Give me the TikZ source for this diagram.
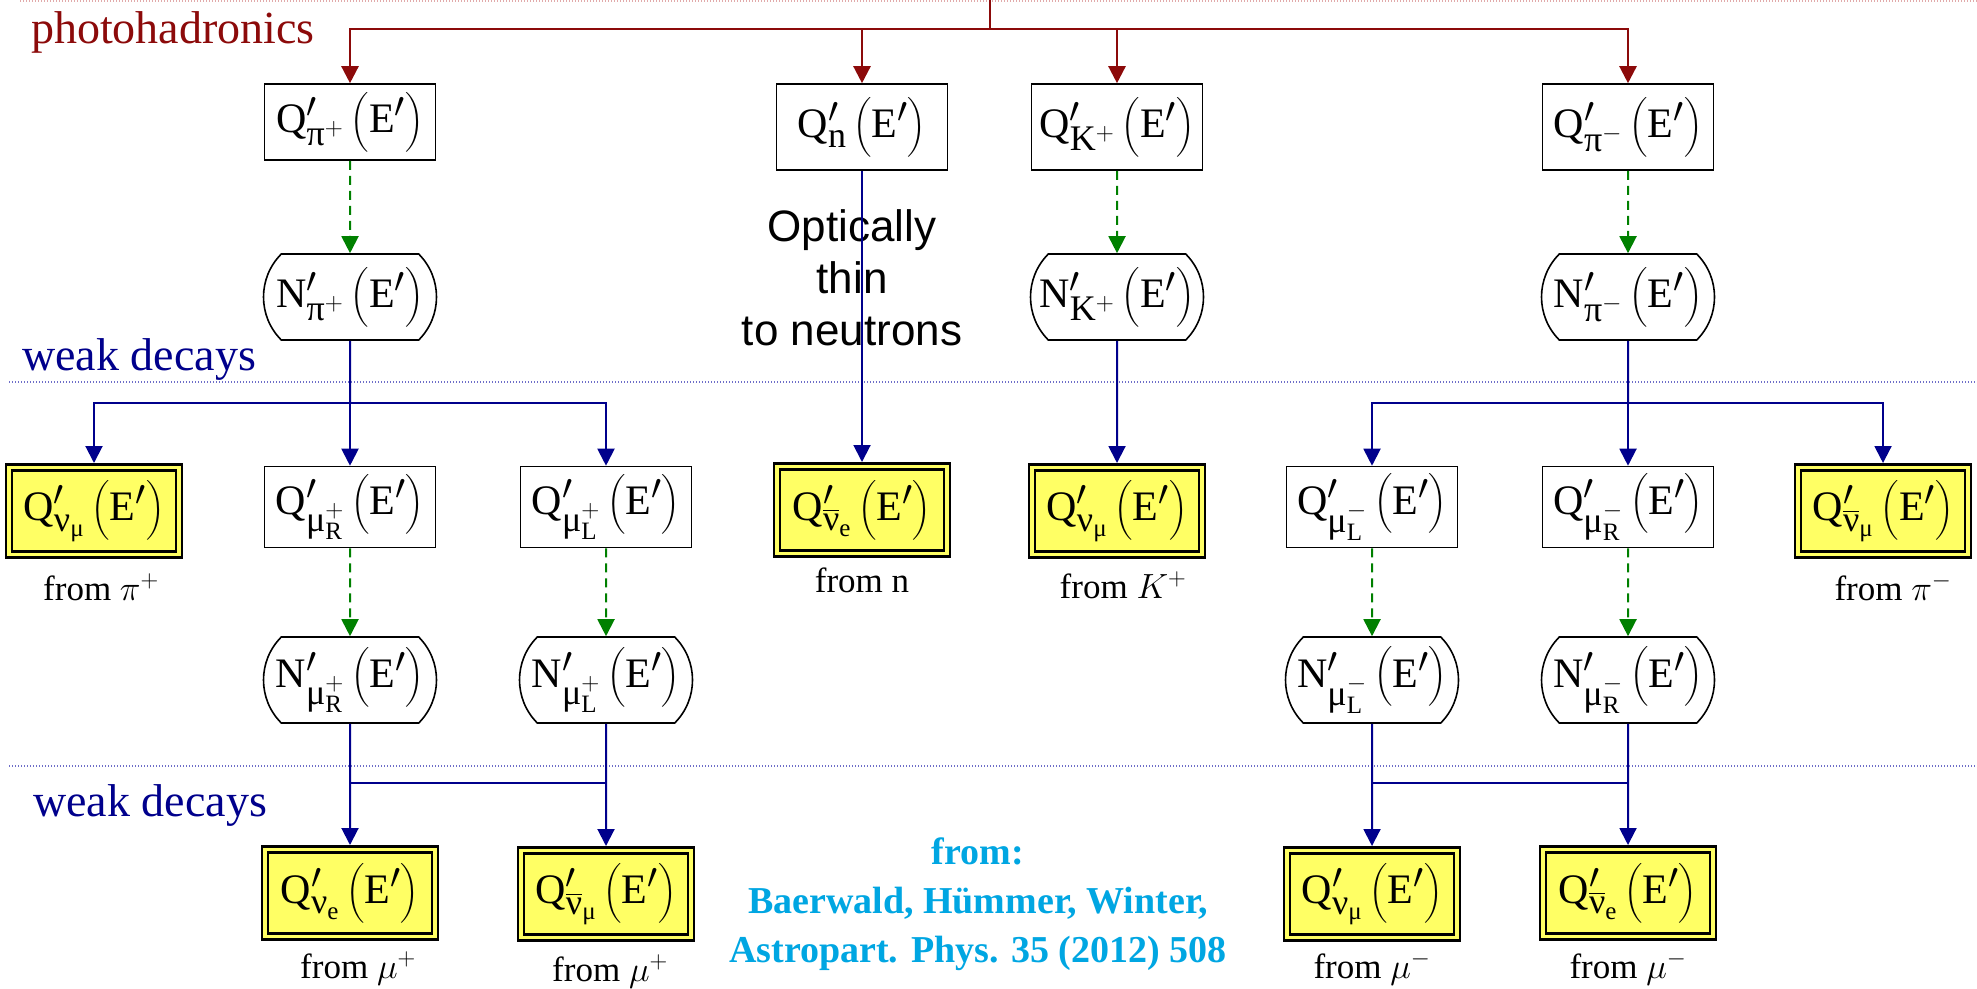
\RequirePackage{fix-cm}
\documentclass[tikz,border=0pt]{standalone}
\usepackage{amsmath}
\usepackage{fontspec}
\setmainfont{Liberation Serif}
\newfontfamily\sansA{Liberation Sans}
\usetikzlibrary{arrows.meta,shapes.misc}
\definecolor{hadred}{RGB}{140,10,10}
\definecolor{weakblue}{RGB}{0,0,140}
\definecolor{dashgreen}{RGB}{0,128,0}
\definecolor{boxyellow}{RGB}{255,255,100}
\definecolor{citecyan}{RGB}{0,166,226}
\definecolor{dotblue}{RGB}{110,110,200}
\definecolor{dotred}{RGB}{225,170,170}
\DeclareMathSizes{42}{42}{36}{25}
\newcommand\qfont{\fontsize{42}{50}\selectfont}
\newcommand\lblfont{\fontsize{35}{42}\selectfont}
\newcommand\secfont{\fontsize{46}{56}\selectfont}
\newcommand\grk[1]{\text{#1}}
\newcommand\Qf[1]{$\mathrm{Q}'_{#1}\,\bigl(\mathrm{E}'\bigr)$}
\newcommand\Nf[1]{$\mathrm{N}'_{#1}\,\bigl(\mathrm{E}'\bigr)$}
\tikzset{
 qbox/.style={draw=black, line width=1.6pt, rectangle, minimum width=171pt, minimum height=86pt, inner sep=0pt, font=\qfont},
 nbox/.style={draw=black, line width=1.6pt, rounded rectangle, rounded rectangle arc length=90, minimum width=173pt, minimum height=86pt, inner sep=0pt, font=\qfont},
 ybox/.style={draw=black, line width=2.5pt, double=boxyellow, double distance=3.5pt, fill=boxyellow, rectangle, minimum width=170pt, minimum height=87pt, inner sep=0pt, outer sep=4.5pt, font=\qfont},
 lbl/.style={anchor=base, inner sep=0pt, font=\lblfont},
 tip/.style={-{Triangle[width=17pt,length=17pt]}},
 redline/.style={draw=hadred, line width=2.4pt},
 blueline/.style={draw=weakblue, line width=2pt},
 greenline/.style={draw=dashgreen, line width=2pt, dash pattern=on 9pt off 6pt},
 sectext/.style={anchor=base west, inner sep=0pt, font=\secfont},
 dotline/.style={draw=dotblue, line width=1.4pt, dash pattern=on 1.4pt off 1.6pt},
}
\begin{document}
\begin{tikzpicture}[x=1pt,y=-1pt]
\fill[white] (0,0) rectangle (1977,988);
\useasboundingbox (0,0) rectangle (1977,988);

% section labels and separators
\node[sectext,text=hadred] (ph) at (31,43) {photohadronics};
\node[sectext,text=weakblue] (wd1) at (22,370) {weak decays};
\node[sectext,text=weakblue] (wd2) at (33,816) {weak decays};
\coordinate (d0l) at (20,1); \coordinate (d0r) at (1977,1);
\coordinate (d1l) at (9,382); \coordinate (d1r) at (1977,382);
\coordinate (d2l) at (9,766); \coordinate (d2r) at (1977,766);
\draw[dotline,draw=dotred] (d0l) -- (d0r);
\draw[dotline] (d1l) -- (d1r);
\draw[dotline] (d2l) -- (d2r);

% top row
\node[qbox,minimum height=76pt] (Qpip) at (350,122) {\Qf{\grk{π}^{+}}};
\node[qbox] (Qn)   at (862,127)  {\Qf{\mathrm{n}}};
\node[qbox] (QKp)  at (1117,127) {\Qf{\mathrm{K}^{+}}};
\node[qbox] (Qpim) at (1628,127) {\Qf{\grk{π}^{-}}};

\node[nbox] (Npip) at (350,297)  {\Nf{\grk{π}^{+}}};
\node[nbox] (NKp)  at (1117,297) {\Nf{\mathrm{K}^{+}}};
\node[nbox] (Npim) at (1628,297) {\Nf{\grk{π}^{-}}};

\node[font=\sansA\fontsize{44}{52}\selectfont, align=center, anchor=north, inner sep=0pt] (opt) at (852,209) {Optically\\thin\\to neutrons};

% second row
\node[ybox] (Qnumu1)   at (94,511)   {\Qf{\grk{ν}_{\grk{μ}}}};
\node[qbox,minimum height=81pt] (QmuRp) at (350,507) {\Qf{\grk{μ}^{+}_{\mathrm{R}}}};
\node[qbox,minimum height=81pt] (QmuLp) at (606,507) {\Qf{\grk{μ}^{+}_{\mathrm{L}}}};
\node[ybox] (Qnuebar)  at (862,510)  {\Qf{\overline{\grk{ν}}_{\mathrm{e}}}};
\node[ybox] (QnumuK)   at (1117,511) {\Qf{\grk{ν}_{\grk{μ}}}};
\node[qbox,minimum height=81pt] (QmuLm) at (1372,507) {\Qf{\grk{μ}^{-}_{\mathrm{L}}}};
\node[qbox,minimum height=81pt] (QmuRm) at (1628,507) {\Qf{\grk{μ}^{-}_{\mathrm{R}}}};
\node[ybox] (Qnumubar) at (1883,511) {\Qf{\overline{\grk{ν}}_{\grk{μ}}}};

\node[lbl] (l1) at (101,600)  {from $\pi^{+}$};
\node[lbl] (l2) at (862,592)  {from n};
\node[lbl] (l3) at (1123,598) {from $K^{+}$};
\node[lbl] (l4) at (1893,600) {from $\pi^{-}$};

% third row
\node[nbox] (NmuRp) at (350,680)  {\Nf{\grk{μ}^{+}_{\mathrm{R}}}};
\node[nbox] (NmuLp) at (606,680)  {\Nf{\grk{μ}^{+}_{\mathrm{L}}}};
\node[nbox] (NmuLm) at (1372,680) {\Nf{\grk{μ}^{-}_{\mathrm{L}}}};
\node[nbox] (NmuRm) at (1628,680) {\Nf{\grk{μ}^{-}_{\mathrm{R}}}};

% fourth row
\node[ybox] (QnueB)     at (350,893)  {\Qf{\grk{ν}_{\mathrm{e}}}};
\node[ybox] (QnumubarB) at (606,894)  {\Qf{\overline{\grk{ν}}_{\grk{μ}}}};
\node[ybox] (QnumuB)    at (1372,894) {\Qf{\grk{ν}_{\grk{μ}}}};
\node[ybox] (QnuebarB)  at (1628,893) {\Qf{\overline{\grk{ν}}_{\mathrm{e}}}};

\node[lbl] (l5) at (358,978)  {from $\mu^{+}$};
\node[lbl] (l6) at (610,981)  {from $\mu^{+}$};
\node[lbl] (l7) at (1372,978) {from $\mu^{-}$};
\node[lbl] (l8) at (1628,978) {from $\mu^{-}$};

\node[font=\bfseries\fontsize{38}{49}\selectfont, text=citecyan, align=center, anchor=north, inner sep=0pt] (cite) at (978,838) {from:\\Baerwald, Hümmer, Winter,\\Astropart. Phys. 35 (2012) 508};

% photohadronic connectors
\coordinate (rtop) at (990,0);
\coordinate (rjoin) at (990,29);
\draw[redline] (rtop) -- (rjoin);
\draw[redline,tip] (rjoin) -| (Qpip.north);
\draw[redline,tip] (rjoin) -| (Qn.north);
\draw[redline,tip] (rjoin) -| (QKp.north);
\draw[redline,tip] (rjoin) -| (Qpim.north);

% cooling (green dashed)
\draw[greenline,tip] (Qpip) -- (Npip);
\draw[greenline,tip] (QKp) -- (NKp);
\draw[greenline,tip] (Qpim) -- (Npim);
\draw[greenline,tip] (QmuRp) -- (NmuRp);
\draw[greenline,tip] (QmuLp) -- (NmuLp);
\draw[greenline,tip] (QmuLm) -- (NmuLm);
\draw[greenline,tip] (QmuRm) -- (NmuRm);

% weak decays, first level
\coordinate (bj1) at (350,403);
\draw[blueline] (Npip) -- (bj1);
\draw[blueline,tip] (bj1) -| (Qnumu1.north);
\draw[blueline,tip] (bj1) -- (QmuRp);
\draw[blueline,tip] (bj1) -| (QmuLp.north);
\draw[blueline,tip] (Qn) -- (Qnuebar);
\draw[blueline,tip] (NKp) -- (QnumuK);
\coordinate (bj2) at (1628,403);
\draw[blueline] (Npim) -- (bj2);
\draw[blueline,tip] (bj2) -| (QmuLm.north);
\draw[blueline,tip] (bj2) -- (QmuRm);
\draw[blueline,tip] (bj2) -| (Qnumubar.north);

% weak decays, muons
\coordinate (bl1) at (350,783); \coordinate (br1) at (606,783);
\coordinate (bl2) at (1372,783); \coordinate (br2) at (1628,783);
\draw[blueline,tip] (NmuRp) -- (QnueB);
\draw[blueline,tip] (NmuLp) -- (QnumubarB);
\draw[blueline] (bl1) -- (br1);
\draw[blueline,tip] (NmuLm) -- (QnumuB);
\draw[blueline,tip] (NmuRm) -- (QnuebarB);
\draw[blueline] (bl2) -- (br2);
\end{tikzpicture}
\end{document}
